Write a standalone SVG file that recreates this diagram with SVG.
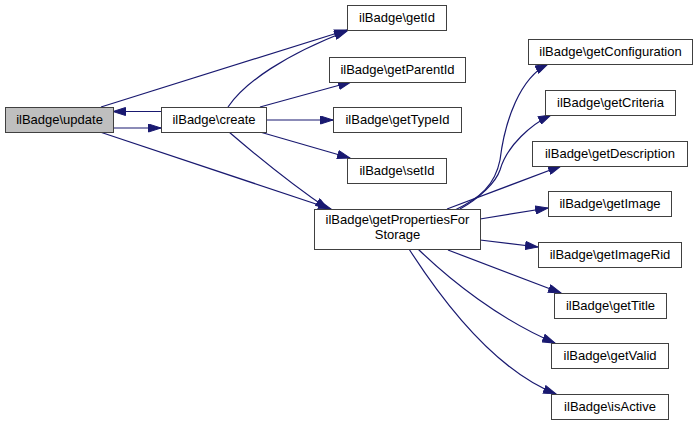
<svg xmlns="http://www.w3.org/2000/svg" width="697" height="425" viewBox="0 0 697 425">
<style>
.n rect{fill:#ffffff;stroke:#404040;stroke-width:1}
.n.h rect{fill:#bfbfbf}
.n text{font-family:"Liberation Sans",Arial,sans-serif;font-size:13px;fill:#000;text-anchor:middle}
.e path{fill:none;stroke:#191970;stroke-width:1.2;marker-end:url(#ah)}
</style>
<defs>
<marker id="ah" markerUnits="userSpaceOnUse" markerWidth="14" markerHeight="9" refX="13" refY="4.5" orient="auto" viewBox="0 0 14 9">
<path d="M0.5,0.5 L13,4.5 L0.5,8.5 z" fill="#191970" stroke="#191970" stroke-width="1"/>
</marker>
</defs>
<rect width="697" height="425" fill="#ffffff"/>
<g id="connectors" class="e">
<path d="M101,107 L347,30"/>
<path d="M228,107 C245,82 285,55 347,31"/>
<path d="M113,128 L161,128"/>
<path d="M161,111.5 L113,111.5"/>
<path d="M100,132 L331,209"/>
<path d="M229,132 C250,150 285,180 328,209"/>
<path d="M260,107 L351,82"/>
<path d="M266,120 L333,120"/>
<path d="M260,132 L350,158"/>
<path d="M455,210 C480,198 495,185 500,160 C505,120 520,78 548,64"/>
<path d="M460,209 C480,198 496,182 500,170 C507,145 532,124 551,115"/>
<path d="M447,209 L561,166"/>
<path d="M480,219 L548,208"/>
<path d="M480,240 L538,247"/>
<path d="M448,250 L561,293"/>
<path d="M418,249 C450,280 500,320 555,343"/>
<path d="M409,249 C445,305 495,370 556,394"/>
</g>
<g id="node-update" class="n h"><rect x="5.5" y="107.5" width="108" height="25"/><text x="59.5" y="123.5">ilBadge\update</text></g>
<g id="node-create" class="n"><rect x="161.5" y="107.5" width="105" height="25"/><text x="214" y="123.5">ilBadge\create</text></g>
<g id="node-getId" class="n"><rect x="347.5" y="5.5" width="99" height="25"/><text x="397" y="21.5">ilBadge\getId</text></g>
<g id="node-getParentId" class="n"><rect x="329.5" y="57.5" width="136" height="25"/><text x="397.5" y="73.5">ilBadge\getParentId</text></g>
<g id="node-getTypeId" class="n"><rect x="333.5" y="107.5" width="128" height="25"/><text x="397.5" y="123.5">ilBadge\getTypeId</text></g>
<g id="node-setId" class="n"><rect x="347.5" y="158.5" width="99" height="25"/><text x="397" y="174.5">ilBadge\setId</text></g>
<g id="node-getPropertiesForStorage" class="n"><rect x="314.5" y="209.5" width="166" height="40"/><text x="397.5" y="224">ilBadge\getPropertiesFor</text><text x="397.5" y="239">Storage</text></g>
<g id="node-getConfiguration" class="n"><rect x="528.5" y="39.5" width="164" height="25"/><text x="610.5" y="55.5">ilBadge\getConfiguration</text></g>
<g id="node-getCriteria" class="n"><rect x="545.5" y="90.5" width="130" height="25"/><text x="610.5" y="106.5">ilBadge\getCriteria</text></g>
<g id="node-getDescription" class="n"><rect x="532.5" y="141.5" width="155" height="25"/><text x="610" y="157.5">ilBadge\getDescription</text></g>
<g id="node-getImage" class="n"><rect x="548.5" y="191.5" width="123" height="25"/><text x="610" y="207.5">ilBadge\getImage</text></g>
<g id="node-getImageRid" class="n"><rect x="538.5" y="242.5" width="143" height="25"/><text x="610" y="258.5">ilBadge\getImageRid</text></g>
<g id="node-getTitle" class="n"><rect x="554.5" y="293.5" width="112" height="25"/><text x="610.5" y="309.5">ilBadge\getTitle</text></g>
<g id="node-getValid" class="n"><rect x="551.5" y="343.5" width="117" height="25"/><text x="610" y="359.5">ilBadge\getValid</text></g>
<g id="node-isActive" class="n"><rect x="551.5" y="394.5" width="117" height="25"/><text x="610" y="410.5">ilBadge\isActive</text></g>
</svg>
